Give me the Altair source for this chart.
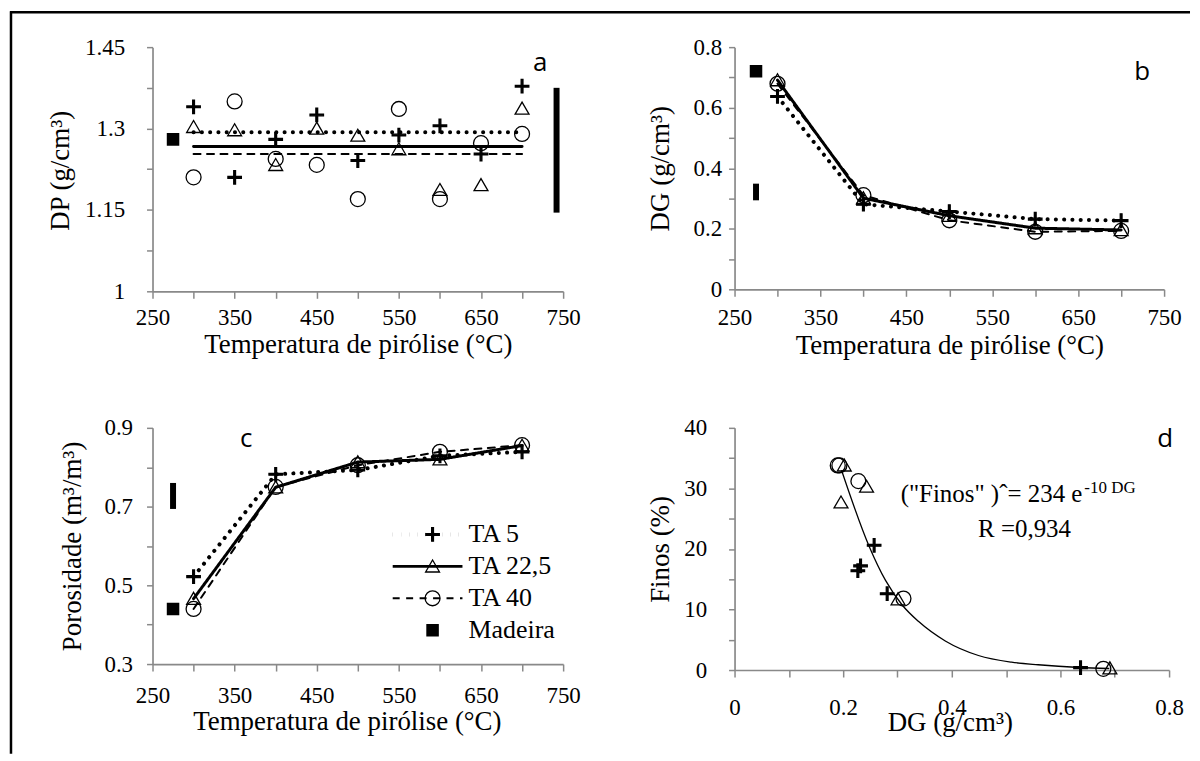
import altair as alt
import pandas as pd

SERIF = "Liberation Serif"
SANS = "Open Sans"

SERIES = ["TA 5", "TA 22,5", "TA 40", "Madeira"]
LINE_SERIES = ["TA 5", "TA 22,5", "TA 40"]

# ---------------- (a) DP ----------------
temp_a = [300, 350, 400, 450, 500, 550, 600, 650, 700]
dp_ta5 = [1.340, 1.210, 1.280, 1.325, 1.241, 1.288, 1.305, 1.253, 1.378]
dp_ta225 = [1.303, 1.297, 1.233, 1.300, 1.287, 1.262, 1.187, 1.196, 1.337]
dp_ta40 = [1.210, 1.350, 1.244, 1.233, 1.170, 1.336, 1.170, 1.273, 1.290]
dp_mean = [1.293, 1.267, 1.253]
mean_span = [300, 700]
madeira_temp = 275
dp_madeira = 1.280
dp_bar_temp = 742
dp_bar = [1.145, 1.375]

# ---------------- (b) DG ----------------
temp_bc = [300, 400, 500, 600, 700]
dg_ta5 = [0.637, 0.281, 0.257, 0.232, 0.227]
dg_ta225 = [0.691, 0.301, 0.243, 0.202, 0.196]
dg_ta40 = [0.679, 0.311, 0.228, 0.190, 0.193]
dg_madeira = 0.720
dg_bar = [0.294, 0.349]

# ---------------- (c) Porosidade ----------------
por_ta5 = [0.522, 0.782, 0.793, 0.829, 0.839]
por_ta225 = [0.466, 0.749, 0.813, 0.820, 0.855]
por_ta40 = [0.440, 0.750, 0.805, 0.839, 0.856]
por_madeira = 0.440
por_bar = [0.694, 0.760]

# ---------------- (d) Finos x DG ----------------
finos_ta5 = [0.4, 12.6, 20.6, 17.2, 16.4]
finos_ta225 = [0.3, 11.7, 30.3, 33.8, 27.7]
finos_ta40 = [0.2, 11.8, 31.2, 33.8, 33.8]
curve_dg = [0.197, 0.2475, 0.278, 0.309, 0.339, 0.388, 0.449, 0.510, 0.559, 0.635, 0.690]
curve_finos = [33.0, 20.5, 14.8, 10.7, 8.0, 4.8, 2.4, 1.3, 0.87, 0.42, 0.25]

# ---------------- build tables ----------------
def points_df(xs_list, ys_list, madeira=None):
    rows = []
    for s, xs, ys in zip(LINE_SERIES, xs_list, ys_list):
        for x, y in zip(xs, ys):
            rows.append({"T": x, "v": y, "serie": s})
    if madeira is not None:
        rows.append({"T": madeira[0], "v": madeira[1], "serie": "Madeira"})
    return pd.DataFrame(rows)


def lines_df(xs_list, ys_list):
    rows = []
    for s, xs, ys in zip(LINE_SERIES, xs_list, ys_list):
        for x, y in zip(xs, ys):
            rows.append({"T": x, "v": y, "linha": s})
    return pd.DataFrame(rows)


pts_a = points_df([temp_a] * 3, [dp_ta5, dp_ta225, dp_ta40], (madeira_temp, dp_madeira))
lin_a = lines_df([mean_span] * 3, [[m, m] for m in dp_mean])
bar_a = pd.DataFrame({"T": [dp_bar_temp], "v": [dp_bar[0]], "v2": [dp_bar[1]]})

pts_b = points_df([temp_bc] * 3, [dg_ta5, dg_ta225, dg_ta40], (madeira_temp, dg_madeira))
lin_b = lines_df([temp_bc] * 3, [dg_ta5, dg_ta225, dg_ta40])
bar_b = pd.DataFrame({"T": [madeira_temp], "v": [dg_bar[0]], "v2": [dg_bar[1]]})

pts_c = points_df([temp_bc] * 3, [por_ta5, por_ta225, por_ta40], (madeira_temp, por_madeira))
lin_c = lines_df([temp_bc] * 3, [por_ta5, por_ta225, por_ta40])
bar_c = pd.DataFrame({"T": [madeira_temp], "v": [por_bar[0]], "v2": [por_bar[1]]})

pts_d = points_df([dg_ta5, dg_ta225, dg_ta40], [finos_ta5, finos_ta225, finos_ta40])
curve_d = pd.DataFrame({"T": curve_dg, "v": curve_finos})

one = pd.DataFrame({"k": [0]})

# ---------------- styles ----------------
PLUS = "M-0.9,-0.12H-0.12V-0.9H0.12V-0.12H0.9V0.12H0.12V0.9H-0.12V0.12H-0.9Z"
TRI = "M0,-0.85L0.93,0.75L-0.93,0.75Z"
SQUARE = "M-0.75,-0.75H0.75V0.75H-0.75Z"

shape_scale = alt.Scale(domain=SERIES, range=[PLUS, TRI, "circle", SQUARE])
fill_scale = alt.Scale(domain=SERIES, range=["black", "transparent", "transparent", "black"])
stroke_scale = alt.Scale(domain=SERIES, range=["black", "black", "black", "black"])
dash_scale = alt.Scale(domain=LINE_SERIES, range=[[0.1, 8.2], [1, 0], [7, 6.5]])
lw_scale = alt.Scale(domain=LINE_SERIES, range=[4, 2, 2.8])


def make_axis(values, expr, title, **kw):
    return alt.Axis(values=values, title=title, grid=False, labelExpr=expr,
                    labelOverlap=False, labelFlush=False, **kw)


def xaxis(values, expr, title, label_center, tx, ty):
    return make_axis(values, expr, title, tickSize=7, labelPadding=label_center - 7,
                     labelBaseline="middle", titleX=tx, titleY=ty,
                     titleBaseline="alphabetic", titleAlign="center")


def yaxis(values, expr, title, gap, tx, ty):
    return make_axis(values, expr, title, tickSize=6, labelPadding=gap - 6,
                     titleX=tx, titleY=ty, titleAngle=270,
                     titleBaseline="middle", titleAlign="center")


def every(step, start):
    # show a label only at start, start+step, ...
    return ("abs(((datum.value - (%s)) / (%s)) - round((datum.value - (%s)) / (%s))) < 0.001"
            " ? format(datum.value, '~g') : ''" % (start, step, start, step))


T_VALUES = list(range(250, 751, 50))
T_EXPR = every(100, 250)
T_TITLE = "Temperatura de pirólise (°C)"


def point_layer(df, xe, ye, legend=None):
    return alt.Chart(df).mark_point(size=225, strokeWidth=1.3, opacity=1).encode(
        x=xe, y=ye,
        shape=alt.Shape("serie:N", scale=shape_scale, legend=legend),
        fill=alt.Fill("serie:N", scale=fill_scale, legend=legend),
        stroke=alt.Stroke("serie:N", scale=stroke_scale, legend=legend),
    )


def line_layer(df, xe, ye, legend=None):
    return alt.Chart(df).mark_line(color="black", strokeCap="round").encode(
        x=xe, y=ye,
        strokeDash=alt.StrokeDash("linha:N", scale=dash_scale, legend=legend),
        strokeWidth=alt.StrokeWidth("linha:N", scale=lw_scale, legend=legend),
        detail="linha:N",
    )


def bar_layer(df, xe, ye):
    return alt.Chart(df).mark_rule(color="black", strokeWidth=6).encode(x=xe, y=ye, y2="v2:Q")


def letter(txt, x, y):
    return alt.Chart(one).mark_text(text=txt, font=SANS, fontSize=26, align="center",
                                    baseline="alphabetic", color="black").encode(
        x=alt.value(x), y=alt.value(y))


# ---------------- geometry ----------------
WA, HA = 412, 245
WB, HB = 431, 243
WC, HC = 412, 237
WD, HD = 436, 243

# ---------------- panel a ----------------
xa = alt.X("T:Q", scale=alt.Scale(domain=[250, 750], nice=False, zero=False),
           axis=xaxis(T_VALUES, T_EXPR, T_TITLE, 26, WA / 2, 61))
ya = alt.Y("v:Q", scale=alt.Scale(domain=[1, 1.45], nice=False, zero=False),
           axis=yaxis([1, 1.075, 1.15, 1.225, 1.3, 1.375, 1.45], every(0.15, 1),
                      "DP (g/cm³)", 28, -92, HA / 2 + 1))

frame_v = alt.Chart(one).mark_rule(color="black", strokeWidth=2.5).encode(
    x=alt.value(-142), y=alt.value(-36), y2=alt.value(709))
frame_h = alt.Chart(one).mark_rule(color="black", strokeWidth=2.5).encode(
    x=alt.value(-143), x2=alt.value(1041), y=alt.value(-35))

panel_a = alt.layer(
    line_layer(lin_a, xa, ya),
    point_layer(pts_a, xa, ya),
    bar_layer(bar_a, xa, ya),
    letter("a", 389, 24),
    frame_v, frame_h,
).properties(width=WA, height=HA)

# ---------------- panel b ----------------
xb = alt.X("T:Q", scale=alt.Scale(domain=[250, 750], nice=False, zero=False),
           axis=xaxis(T_VALUES, T_EXPR, T_TITLE, 28, WB / 2, 64))
yb = alt.Y("v:Q", scale=alt.Scale(domain=[0, 0.8], nice=False, zero=False),
           axis=yaxis([0, 0.1, 0.2, 0.3, 0.4, 0.5, 0.6, 0.7, 0.8], every(0.2, 0),
                      "DG (g/cm³)", 13, -74, HB / 2))

panel_b = alt.layer(
    line_layer(lin_b, xb, yb),
    point_layer(pts_b, xb, yb),
    bar_layer(bar_b, xb, yb),
    letter("b", 409, 33),
).properties(width=WB, height=HB)

# ---------------- panel c ----------------
xc = alt.X("T:Q", scale=alt.Scale(domain=[250, 750], nice=False, zero=False),
           axis=xaxis(T_VALUES, T_EXPR, T_TITLE, 32, 195, 66))
yc = alt.Y("v:Q", scale=alt.Scale(domain=[0.3, 0.9], nice=False, zero=False),
           axis=yaxis([0.3, 0.4, 0.5, 0.6, 0.7, 0.8, 0.9], every(0.2, 0.3),
                      "Porosidade (m³/m³)", 20, -80, HC / 2))

leg_lines = alt.Legend(title=None, orient="none", legendX=239, legendY=91, padding=0,
                       symbolType="stroke", symbolSize=4900, symbolStrokeColor="black",
                       labelExpr="''", clipHeight=32, rowPadding=0,
                       labelFont=SERIF, labelFontSize=26)
leg_pts = alt.Legend(title=None, orient="none", legendX=268, legendY=91, padding=0,
                     symbolSize=225, symbolStrokeWidth=1.3, symbolOpacity=1,
                     clipHeight=32, rowPadding=0, labelOffset=23,
                     labelFont=SERIF, labelFontSize=26, labelColor="black")

panel_c = alt.layer(
    line_layer(lin_c, xc, yc, leg_lines),
    point_layer(pts_c, xc, yc, leg_pts),
    bar_layer(bar_c, xc, yc),
    letter("c", 94, 19),
).properties(width=WC, height=HC)

# ---------------- panel d ----------------
xd = alt.X("T:Q", scale=alt.Scale(domain=[0, 0.8], nice=False, zero=False),
           axis=xaxis([0, 0.1, 0.2, 0.3, 0.4, 0.5, 0.6, 0.7, 0.8], every(0.2, 0),
                      "DG (g/cm³)", 38, 216, 61))
yd = alt.Y("v:Q", scale=alt.Scale(domain=[0, 40], nice=False, zero=False),
           axis=yaxis([0, 5, 10, 15, 20, 25, 30, 35, 40], every(10, 0),
                      "Finos (%)", 28, -74, HD / 2))

curve = alt.Chart(curve_d).mark_line(color="black", strokeWidth=1.3, interpolate="monotone").encode(
    x=xd, y=yd)

ann_main = alt.Chart(one).mark_text(text='("Finos" )ˆ= 234 e', font=SERIF, fontSize=25,
                                    align="right", baseline="alphabetic", color="black").encode(
    x=alt.value(349), y=alt.value(74))
ann_sup = alt.Chart(one).mark_text(text="-10 DG", font=SERIF, fontSize=17,
                                   align="left", baseline="alphabetic", color="black").encode(
    x=alt.value(351), y=alt.value(65))
ann_r = alt.Chart(one).mark_text(text="R =0,934", font=SERIF, fontSize=25,
                                 align="center", baseline="alphabetic", color="black").encode(
    x=alt.value(291), y=alt.value(110))

panel_d = alt.layer(
    curve,
    point_layer(pts_d, xd, yd),
    ann_main, ann_sup, ann_r,
    letter("d", 432, 19),
).properties(width=WD, height=HD)

chart = alt.concat(
    panel_a, panel_b, panel_c, panel_d,
    columns=2, spacing=alt.RowColnumber(row=137, column=172),
    bounds="flush", align="each",
).resolve_scale(
    shape="independent", fill="independent", stroke="independent",
    strokeDash="independent", strokeWidth="independent"
).properties(padding=0).configure_axis(
    labelFont=SERIF, titleFont=SERIF, labelFontSize=23, titleFontSize=27,
    labelColor="black", titleColor="black", titleFontWeight="normal",
    domainColor="#898989", domainWidth=1.7, tickColor="#898989", tickWidth=1.5, grid=False,
).configure_view(stroke=None)

chart.save("out.html", embed_options={"renderer": "svg", "actions": False})
